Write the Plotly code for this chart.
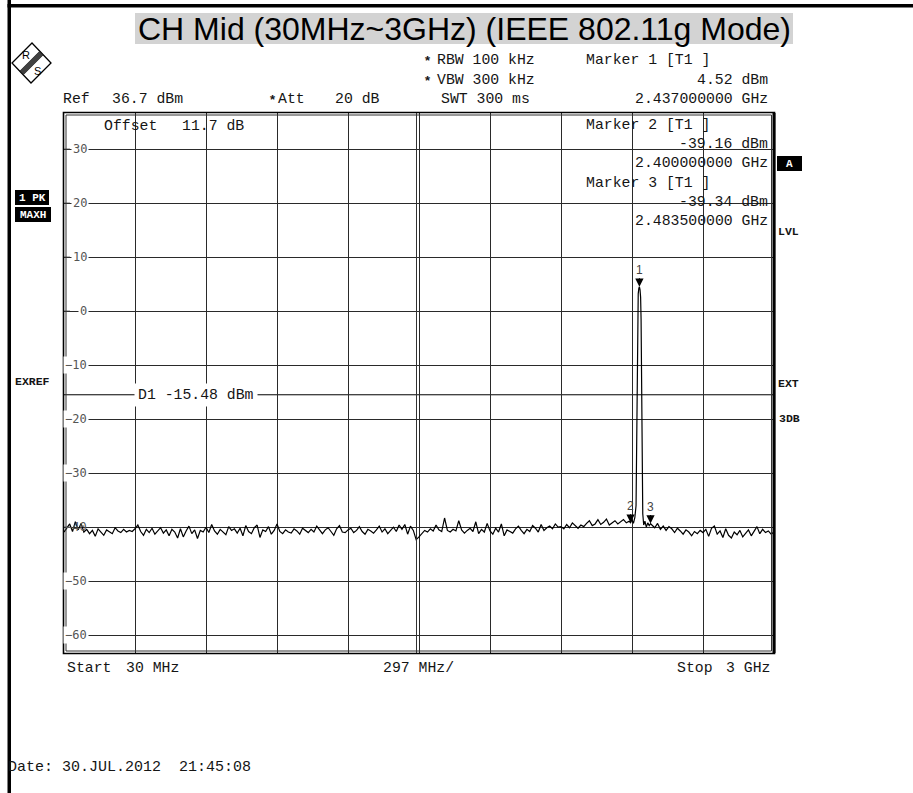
import plotly.graph_objects as go

# ---------------- data ----------------
TITLE = "CH Mid (30MHz~3GHz) (IEEE 802.11g Mode)"
start_mhz = 30.0
stop_mhz = 3000.0
ref_level_dbm = 36.7
db_per_div = 10.0
n_divs = 10
sweep_step_mhz = 11.88

# noise trace 30 MHz .. 2394 MHz (one value per sweep step)
noise_low_dbm = [
    -40.9, -40.2, -39.4, -40.8, -39.0, -40.5, -39.3, -40.9, -40.4, -41.2, -40.6, -41.7, -40.3, -40.9, -41.5, -40.5, -40.8, -41.2, -40.1, -40.7, -41.0, -40.4, -40.9, -40.6, -40.8,
    -40.3, -39.6, -40.8, -41.5, -40.4, -41.0, -40.2, -41.3, -40.6, -40.1, -41.1, -40.5, -41.6, -40.4, -40.9, -42.0, -40.3, -41.8, -40.7, -39.8, -41.2, -40.5, -42.1, -40.6, -40.9,
    -40.0, -41.0, -39.5, -40.7, -41.3, -40.4, -40.9, -41.4, -39.9, -40.6, -40.3, -41.1, -40.2, -41.6, -39.7, -40.8, -41.2, -40.1, -39.6, -41.9, -40.5, -40.8, -39.9, -41.3, -40.6,
    -39.4, -40.8, -41.2, -40.5, -40.9, -41.1, -40.3, -40.7, -41.3, -40.2, -40.6, -41.0, -40.4, -40.9, -39.8, -40.6, -41.2, -40.5, -40.1, -40.8, -41.5, -40.3, -39.7, -40.9, -41.0,
    -40.5, -40.2, -41.0, -40.6, -39.9, -40.8, -41.3, -40.4, -40.7, -41.1, -40.5, -39.8, -40.9, -40.3, -41.2, -40.6, -40.0, -40.8, -39.6, -40.4, -39.5, -41.3, -39.8, -40.6, -42.3,
    -41.8, -41.2, -40.6, -40.9, -40.3, -40.7, -39.6, -40.5, -40.8, -38.3, -40.6, -40.9, -40.4, -40.7, -38.8, -40.5, -41.1, -40.6, -40.2, -40.8, -39.0, -41.2, -40.4, -40.9, -39.3,
    -40.7, -41.3, -40.2, -40.9, -39.4, -41.6, -40.5, -40.8, -41.1, -40.3, -39.8, -40.6, -41.2, -40.4, -40.8, -39.7, -40.2, -40.9, -39.5, -40.6, -40.1, -39.8, -40.3, -39.4, -40.0,
    -39.9, -40.3, -39.5, -40.1, -39.2, -39.8, -40.2, -39.6, -39.9, -39.3, -38.8, -39.7, -39.4, -38.6, -39.5, -39.1, -38.5, -39.6, -39.2, -38.8, -39.4, -39.0, -38.6, -39.2, -38.9,
]

# carrier region (explicit frequencies)
peak_freq_mhz = [2400, 2406, 2412, 2418, 2423, 2426, 2428, 2430, 2432, 2434.5, 2437, 2439.5,
                 2442, 2444, 2446, 2448, 2451, 2455, 2460, 2466, 2472, 2478, 2483.5]
peak_level_dbm = [-39.16, -38.6, -39.3, -38.2, -36.0, -22.0, -6.0, 0.5, 3.2, 4.2, 4.52, 4.0,
                  2.6, -1.5, -12.0, -28.0, -37.5, -39.6, -38.9, -40.0, -39.2, -39.7, -39.34]

# noise trace 2489 MHz .. 3000 MHz
noise_high_start_mhz = 2489.16
noise_high_dbm = [
    -39.6, -40.1, -39.3, -40.4, -39.8, -40.6, -39.9, -40.3, -41.0, -40.2, -40.7, -41.3, -40.5, -40.9, -41.6, -40.8, -41.2, -40.6,
    -41.0, -40.4, -41.7, -40.2, -39.8, -41.3, -40.7, -41.9, -40.3, -41.5, -42.0, -40.9, -41.4, -40.6, -41.8, -41.1, -40.5, -41.6,
    -40.8, -39.9, -41.2, -40.4, -41.0, -40.7, -41.3, -40.9,
]

marker_names = ["1", "2", "3"]
marker_freq_mhz = [2437.0, 2400.0, 2483.5]
marker_level_dbm = [4.52, -39.16, -39.34]
display_line_dbm = -15.48
y_tick_values = [30, 20, 10, 0, -10, -20, -30, -40, -50, -60]

# ---------------- build trace ----------------
freq_all = [start_mhz + i * sweep_step_mhz for i in range(len(noise_low_dbm))]
lvl_all = list(noise_low_dbm)
freq_all += peak_freq_mhz
lvl_all += peak_level_dbm
freq_all += [noise_high_start_mhz + i * sweep_step_mhz for i in range(len(noise_high_dbm))]
lvl_all += noise_high_dbm

W, H = 913, 793
PL, PR, PT, PB = 64, 774, 113, 653


def px(x):
    return (x - PL) / (PR - PL)


def py(y):
    return (PB - y) / (PB - PT)


MONO = "Liberation Mono"
SANS = "Liberation Sans"
TXT = "#151515"

fig = go.Figure()
fig.add_trace(go.Scatter(x=freq_all, y=lvl_all, mode="lines",
                         line=dict(color="black", width=1.2), hoverinfo="skip",
                         showlegend=False))

annotations = []


def txt(x, y, s, size=14.8, anchor="left", family=MONO, color=TXT, **kw):
    d = dict(x=px(x), y=py(y), xref="paper", yref="paper", text=s, showarrow=False,
             xanchor=anchor, yanchor="middle", borderpad=0,
             font=dict(family=family, size=size, color=color))
    d.update(kw)
    annotations.append(d)


# title
txt(464, 29, TITLE, size=32, anchor="center", family=SANS, color="black")

# header
txt(424, 60, "<b>*</b>", size=13, family=SANS)
txt(436, 60, "RBW 100 kHz")
txt(424, 80, "<b>*</b>", size=13, family=SANS)
txt(436, 80, "VBW 300 kHz")
txt(440, 99, "SWT 300 ms")
txt(585, 60, "Marker 1 [T1 ]")
txt(769, 80, "4.52 dBm", anchor="right")
txt(769, 99, "2.437000000 GHz", anchor="right")
txt(62, 99, "Ref")
txt(111, 99, "36.7 dBm")
txt(269, 99, "<b>*</b>", size=13, family=SANS)
txt(277, 99, "Att")
txt(334, 99, "20 dB")

# marker block inside grid
txt(585, 125, "Marker 2 [T1 ]")
txt(769, 144, "-39.16 dBm", anchor="right")
txt(769, 163, "2.400000000 GHz", anchor="right")
txt(585, 183, "Marker 3 [T1 ]")
txt(769, 202, "-39.34 dBm", anchor="right")
txt(769, 221, "2.483500000 GHz", anchor="right")
txt(103, 126, "Offset")
txt(181, 126, "11.7 dB")

# bottom
txt(66, 668, "Start")
txt(125, 668, "30 MHz")
txt(382, 668, "297 MHz/")
txt(676, 668, "Stop")
txt(771, 668, "3 GHz", anchor="right")
txt(7, 767, "Date: 30.JUL.2012  21:45:08", size=15)

# side labels
txt(32, 197.5, "<b>1 PK</b>", size=11, anchor="center", color="white")
txt(33, 214.5, "<b>MAXH</b>", size=11, anchor="center", color="white")
txt(14, 381, "<b>EXREF</b>", size=11.5)
txt(789.5, 163.5, "<b>A</b>", size=11, anchor="center", color="white")
txt(777, 232, "<b>LVL</b>", size=11.5)
txt(777, 384, "<b>EXT</b>", size=11.5)
txt(778, 418, "<b>3DB</b>", size=11.5)

# logo letters
txt(25.5, 55, "R", size=11, anchor="center", family=SANS, color="black")
txt(37.5, 71, "S", size=11, anchor="center", family=SANS, color="black")

# y level labels on grid lines
for v in y_tick_values:
    annotations.append(dict(x=px(89), y=v, xref="paper", yref="y", text=str(v).replace("-", "\u2212"),
                            showarrow=False, xanchor="right", yanchor="middle",
                            font=dict(family="DejaVu Sans Mono", size=12, color="#555"),
                            bgcolor="white" if v != -40 else None, borderpad=1))

# display line label
annotations.append(dict(x=px(134), y=display_line_dbm, xref="paper", yref="y",
                        text="D1 -15.48 dBm", showarrow=False, xanchor="left", yanchor="middle",
                        font=dict(family=MONO, size=14.8, color=TXT), bgcolor="white", borderpad=3))

# markers
for name, f, l in zip(marker_names, marker_freq_mhz, marker_level_dbm):
    annotations.append(dict(x=f, y=l, xref="x", yref="y", text=name, showarrow=True,
                            arrowhead=2, arrowsize=1.5, arrowwidth=1.1, arrowcolor="black",
                            ax=0, ay=-17, standoff=0,
                            font=dict(family=SANS, size=12, color="#444")))

shapes = []


def rect(x0, y0, x1, y1, fill=None, line_color=None, lw=0):
    shapes.append(dict(type="rect", xref="paper", yref="paper", x0=px(x0), x1=px(x1),
                       y0=py(y0), y1=py(y1), fillcolor=fill,
                       line=dict(color=line_color or "rgba(0,0,0,0)", width=lw), layer="above"))


def seg(x0, y0, x1, y1, color="black", lw=1):
    shapes.append(dict(type="line", xref="paper", yref="paper", x0=px(x0), x1=px(x1),
                       y0=py(y0), y1=py(y1), line=dict(color=color, width=lw), layer="above"))


# page frame
rect(7.5, 0, 11, 793, fill="black")
rect(7.5, 4, 913, 7.5, fill="black")
# title background (below text)
shapes.append(dict(type="rect", xref="paper", yref="paper", x0=px(135), x1=px(793),
                   y0=py(13), y1=py(44), fillcolor="#d3d3d3", line=dict(width=0), layer="below"))
# side boxes
rect(15, 190, 49, 205, fill="black")
rect(15, 207, 51, 222, fill="black")
rect(777, 156, 802, 171, fill="black")

# plot borders
rect(63.5, 112.5, 774.5, 653.5, line_color="black", lw=1.6)
rect(66, 115, 771.5, 651, line_color="#333", lw=1)
seg(774, 113, 774, 653, lw=3)
seg(416.5, 113, 416.5, 653, color="#333", lw=1)

# display line
shapes.append(dict(type="line", xref="paper", yref="y", x0=0, x1=1, y0=display_line_dbm,
                   y1=display_line_dbm, line=dict(color="black", width=1), layer="below"))

# left ticks for level labels
for v in y_tick_values:
    shapes.append(dict(type="line", xref="paper", yref="y", x0=0, x1=px(70), y0=v, y1=v,
                       line=dict(color="#333", width=1)))

# R&S logo
pts = [(32, 43), (51, 63), (31, 83), (12, 63)]
path = "M " + " L ".join(f"{px(a):.5f},{py(b):.5f}" for a, b in pts) + " Z"
shapes.append(dict(type="path", xref="paper", yref="paper", path=path,
                   line=dict(color="black", width=1.3), fillcolor="white", layer="below"))
for d in (-2.1, -0.7, 0.7, 2.1):
    o = d * 0.7071
    seg(41.5 + o, 53 + o, 21.5 + o, 73 + o, color="#222", lw=1.2)

xticks_grid = dict(tick0=start_mhz, dtick=(stop_mhz - start_mhz) / n_divs)
fig.update_layout(
    width=W, height=H, autosize=False,
    margin=dict(l=PL, r=W - PR, t=PT, b=H - PB, pad=0),
    paper_bgcolor="white", plot_bgcolor="white",
    xaxis=dict(range=[start_mhz, stop_mhz], showticklabels=False, ticks="",
               showgrid=True, gridcolor="#2a2a2a", gridwidth=1, zeroline=False,
               showline=False, tickmode="linear", **xticks_grid),
    yaxis=dict(range=[ref_level_dbm - n_divs * db_per_div, ref_level_dbm],
               showticklabels=False, ticks="", showgrid=True, gridcolor="#2a2a2a",
               gridwidth=1, zeroline=False, showline=False, tickmode="linear",
               tick0=0, dtick=db_per_div),
    annotations=annotations, shapes=shapes, showlegend=False,
)

fig.write_html("out.html", config={"displayModeBar": False},
               post_script="document.body.style.margin='0px';document.body.style.overflow='hidden';")
